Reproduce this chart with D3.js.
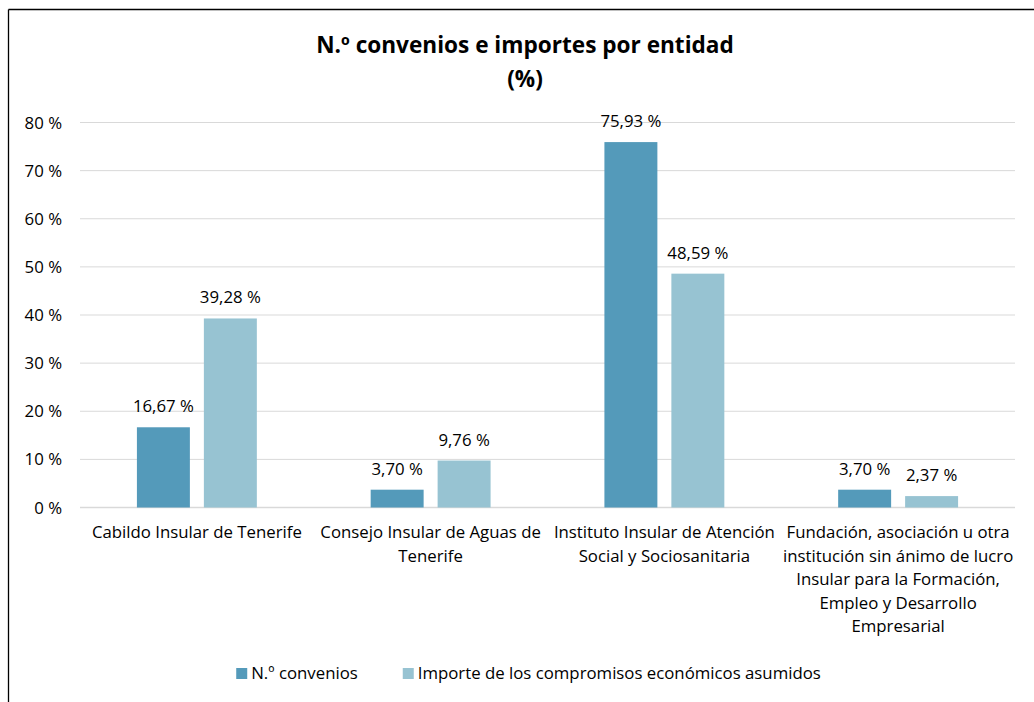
<!DOCTYPE html>
<html>
<head>
<meta charset="utf-8">
<script src="https://cdn.jsdelivr.net/npm/d3@7"></script>
<style>
  body { margin: 0; background: #fff; }
  svg text { font-family: "Open Sans", Lato, sans-serif; fill: #000; }
</style>
</head>
<body>
<div id="chart"></div>
<script>

// categories, each one broken into the lines shown under the axis
var categories = [
  ['Cabildo Insular de Tenerife'],
  ['Consejo Insular de Aguas de', 'Tenerife'],
  ['Instituto Insular de Atención', 'Social y Sociosanitaria'],
  ['Fundación, asociación u otra', 'institución sin ánimo de lucro', 'Insular para la Formación,', 'Empleo y Desarrollo', 'Empresarial']
]
var series_names = ['N.º convenios', 'Importe de los compromisos económicos asumidos']
var convenios = [16.67, 3.70, 75.93, 3.70]
var importes = [39.28, 9.76, 48.59, 2.37]
var y_ticks = [0, 10, 20, 30, 40, 50, 60, 70, 80]

var width = 1034
var height = 702
var colors = ['#549ABA', '#97C3D2']
var font_size = '16.8px'

var svg = d3.select('#chart').append('svg')
  .attr('width', width)
  .attr('height', height)

// chart frame (top and left edges visible)
svg.append('line')
  .attr('x1', 8.5).attr('y1', 9.5).attr('x2', width).attr('y2', 9.5)
  .attr('stroke', '#000').attr('stroke-width', 1.3)
svg.append('line')
  .attr('x1', 8.5).attr('y1', 9.5).attr('x2', 8.5).attr('y2', height)
  .attr('stroke', '#000').attr('stroke-width', 1.3)

// title
svg.append('text')
  .attr('x', 525).attr('y', 53)
  .attr('text-anchor', 'middle')
  .style('font-size', '22.6px').style('font-weight', 'bold')
  .text('N.º convenios e importes por entidad')
svg.append('text')
  .attr('x', 525).attr('y', 87)
  .attr('text-anchor', 'middle')
  .style('font-size', '22.6px').style('font-weight', 'bold')
  .text('(%)')

var x0 = d3.scaleBand()
  .domain(d3.range(categories.length))
  .range([80, 1015])

var x1 = d3.scaleBand()
  .domain([0, 1])
  .range([0, x0.bandwidth()])
  .paddingInner(0.209)
  .paddingOuter(0.85)

var y = d3.scaleLinear()
  .domain([0, 80])
  .range([507.5, 122.5])

// gridlines
svg.append('g').selectAll('line')
  .data(y_ticks)
  .enter().append('line')
  .attr('x1', 80).attr('x2', 1015)
  .attr('y1', function(d) { return y(d) })
  .attr('y2', function(d) { return y(d) })
  .attr('stroke', '#D9D9D9')
  .attr('stroke-width', function(d) { return d === 0 ? 1.6 : 1 })

// y tick labels
svg.append('g').selectAll('text')
  .data(y_ticks)
  .enter().append('text')
  .attr('x', 62)
  .attr('y', function(d) { return y(d) + 6 })
  .attr('text-anchor', 'end')
  .style('font-size', font_size)
  .text(function(d) { return d + ' %' })

var fmt = function(v) { return v.toFixed(2).replace('.', ',') + ' %' }

;[convenios, importes].forEach(function(values, s) {
  var g = svg.append('g')
  g.selectAll('rect')
    .data(values)
    .enter().append('rect')
    .attr('x', function(d, i) { return x0(i) + x1(s) })
    .attr('width', x1.bandwidth())
    .attr('y', function(d) { return y(d) })
    .attr('height', function(d) { return y(0) - y(d) })
    .attr('fill', colors[s])

  g.selectAll('text')
    .data(values)
    .enter().append('text')
    .attr('x', function(d, i) { return x0(i) + x1(s) + x1.bandwidth() / 2 })
    .attr('y', function(d) { return y(d) - 15 })
    .attr('text-anchor', 'middle')
    .style('font-size', font_size)
    .text(fmt)
})

// category labels
categories.forEach(function(lines, i) {
  var t = svg.append('text')
    .attr('text-anchor', 'middle')
    .style('font-size', font_size)
  lines.forEach(function(line, k) {
    t.append('tspan')
      .attr('x', x0(i) + x0.bandwidth() / 2)
      .attr('y', 538 + k * 23.5)
      .text(line)
  })
})

// legend, centred under the plot
var legend = svg.append('g')
var lx = 0
series_names.forEach(function(name, s) {
  legend.append('rect')
    .attr('x', lx).attr('y', 668)
    .attr('width', 11).attr('height', 11)
    .attr('fill', colors[s])
  var t = legend.append('text')
    .attr('x', lx + 15).attr('y', 679)
    .style('font-size', font_size)
    .text(name)
  lx += 15 + t.node().getComputedTextLength() + 45
})
var legend_w = lx - 45
legend.attr('transform', 'translate(' + (528.5 - legend_w / 2) + ',0)')

</script>
</body>
</html>
